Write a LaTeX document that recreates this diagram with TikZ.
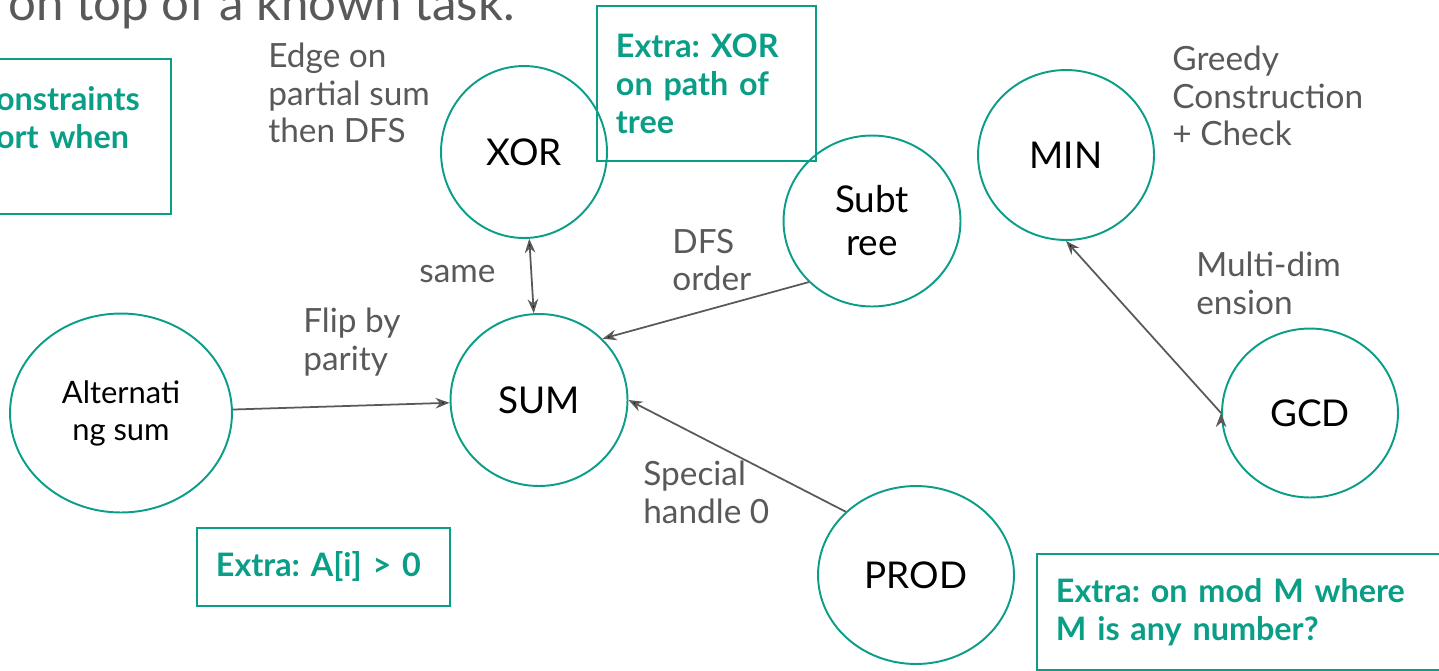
\documentclass[tikz,border=0pt]{standalone}
\usepackage{fontspec}
\setmainfont{Lato}
\frenchspacing
\usetikzlibrary{shapes.geometric,arrows.meta}
\definecolor{slideteal}{HTML}{0A9E87}
\definecolor{notegray}{HTML}{595959}

\begin{document}
\begin{tikzpicture}[x=0.02cm, y=-0.02cm,
	task/.style={draw=slideteal, ellipse, line width=1.1pt, inner sep=0pt, minimum width=3.52cm, minimum height=3.44cm, align=center, font=\fontsize{21}{24.5}\selectfont},
	note/.style={text=notegray, align=left, anchor=west, inner sep=0pt, font=\fontsize{19}{21.5}\selectfont},
	extra/.style={draw=slideteal, line width=1.1pt, text=slideteal, align=left, inner xsep=0.38cm, font=\bfseries\fontsize{18.4}{21.7}\selectfont},
	link/.style={draw=notegray, line width=1pt, arrows={-Stealth[length=8pt, width=6pt]}},
	twoway/.style={arrows={Stealth[length=8pt, width=6pt]-Stealth[length=8pt, width=6pt]}}]
	\useasboundingbox (0,0) rectangle (1439,670);

	\node[text=notegray, anchor=base west, inner sep=0pt, font=\fontsize{28}{32}\selectfont] (title) at (8,20) {on top of a known task.};

	\node[task, minimum width=3.32cm]							(xor)	at (524,152)	{XOR};
	\node[task, minimum width=3.54cm]							(sum)	at (539,400)	{SUM};
	\node[task, minimum width=4.44cm, minimum height=3.98cm, font=\fontsize{17.6}{21}\selectfont]
																(alt)	at (121,413)	{Alternati\\ng sum};
	\node[task, minimum width=3.54cm, minimum height=3.42cm]	(sub)	at (872,221)	{Subt\\ree};
	\node[task, minimum height=3.4cm]							(min)	at (1066,155)	{MIN};
	\node[task, minimum height=3.38cm]							(gcd)	at (1310,413)	{GCD};
	\node[task, minimum width=3.92cm, minimum height=3.56cm]	(prod)	at (916,575)	{PROD};

	\node[extra, anchor=north east, text width=3.12cm, minimum height=3.1cm]	(cons)	at (172,58)		{onstraints\\ort when\\\mbox{}};
	\node[extra, anchor=north west, text width=3.62cm, minimum height=3.1cm]	(xtree)	at (596,5)		{Extra: XOR\\on path of\\tree};
	\node[extra, anchor=north west, text width=4.3cm, minimum height=1.56cm]	(pos)	at (196,527)	{Extra: A[i] > 0};
	\node[extra, anchor=north west, text width=8.5cm, minimum height=2.32cm]	(mod)	at (1036,553)	{Extra: on mod M where\\M is any number?};

	\node[note]	(edge)		at (268,93)		{Edge on\\partial sum\\then DFS};
	\node[note]	(same)		at (419,274)	{same};
	\node[note]	(dfs)		at (672,260)	{DFS\\order};
	\node[note]	(flip)		at (303,342)	{Flip by\\parity};
	\node[note]	(special)	at (643,492)	{Special\\handle 0};
	\node[note]	(greedy)	at (1172,96)	{Greedy\\Construction\\+ Check};
	\node[note]	(multi)		at (1196,283)	{Multi-dim\\ension};

	\path[link]
	(xor)		edge[twoway]	(sum)
	(alt)		edge	(sum)
	(sub.224)	edge	(sum.44)
	(prod.138)	edge	(sum.east)
	(gcd.west)	edge	(min.south);
\end{tikzpicture}
\end{document}
